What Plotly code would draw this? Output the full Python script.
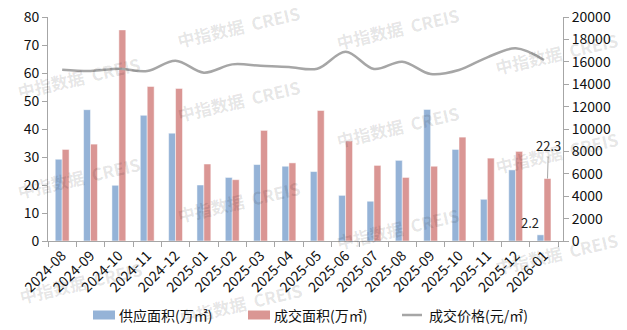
import plotly.graph_objects as go

# Monthly land market figures
months = ["2024-08", "2024-09", "2024-10", "2024-11", "2024-12", "2025-01",
          "2025-02", "2025-03", "2025-04", "2025-05", "2025-06", "2025-07",
          "2025-08", "2025-09", "2025-10", "2025-11", "2025-12", "2026-01"]
supply_area = [29.2, 46.9, 19.9, 44.9, 38.5, 20.0, 22.7, 27.3, 26.7, 24.8,
               16.3, 14.2, 28.8, 47.0, 32.7, 14.9, 25.4, 2.2]
deal_area = [32.7, 34.6, 75.4, 55.2, 54.5, 27.5, 21.9, 39.5, 27.9, 46.6,
             35.7, 27.0, 22.7, 26.7, 37.1, 29.6, 32.0, 22.3]
deal_price = [15300, 15180, 15380, 15180, 16100, 15030, 15770, 15650, 15540,
              15380, 16900, 15360, 16010, 14910, 15270, 16400, 17200, 16160]

series_names = ["供应面积(万㎡)", "成交面积(万㎡)", "成交价格(元/㎡)"]
left_ticks = list(range(0, 81, 10))
right_ticks = list(range(0, 20001, 2000))

BLUE = "#95b3d7"
RED = "#da9694"
GREY = "#a6a6a6"
AXIS = "#a6a6a6"
FONT = "Noto Sans CJK SC, Noto Sans, sans-serif"

BARGAP = 0.51
half = (1 - BARGAP) / 4  # centre offset of each bar inside its group

W, H = 627, 330
L, R, T, B = 48, 64, 17, 89
pw, ph = W - L - R, H - T - B


def px_x(px):
    return (px - L) / pw


def px_y(py):
    return (H - B - py) / ph


fig = go.Figure()
fig.add_trace(go.Bar(x=months, y=supply_area, name=series_names[0], showlegend=False,
                     marker=dict(color=BLUE, line=dict(color="white", width=0.5))))
fig.add_trace(go.Bar(x=months, y=deal_area, name=series_names[1], showlegend=False,
                     marker=dict(color=RED, line=dict(color="white", width=0.5))))
fig.add_trace(go.Scatter(x=months, y=deal_price, name=series_names[2], yaxis="y2",
                         mode="lines", showlegend=False,
                         line=dict(color=GREY, width=2.5, shape="spline", smoothing=1)))

# value labels on the last month
last = len(months) - 1
annotations = [
    dict(x=last - half, y=supply_area[-1], text=f"{supply_area[-1]}", showarrow=False,
         xshift=-11, yshift=12, font=dict(size=13, color="#222", family=FONT)),
    dict(x=last + half, y=deal_area[-1], text=f"{deal_area[-1]}", showarrow=True,
         arrowhead=0, arrowwidth=1, arrowcolor=GREY, ax=1, ay=-33,
         font=dict(size=13, color="#222", family=FONT)),
]

# faint "中指数据 CREIS" watermark tiles (pixel centres)
marks = [(78, 77), (78, 177), (80, 282),
         (238, 27), (238, 100), (238, 201), (240, 303),
         (397, 28), (397, 126), (397, 228),
         (556, 54), (556, 152), (556, 254)]
for mx, my in marks:
    annotations.append(dict(xref="paper", yref="paper", x=px_x(mx), y=px_y(my),
                            xanchor="center", yanchor="middle",
                            text="中指数据  CREIS", showarrow=False, textangle=-13,
                            font=dict(size=17, color="rgba(0,0,0,0.11)", family=FONT, weight="bold")))

# legend row drawn below the axis
shapes = []
leg_y = 315
legend_items = [("bar", BLUE, 93, 117), ("bar", RED, 248, 272), ("line", GREY, 402, 427)]
for (kind, color, sx, tx), name in zip(legend_items, series_names):
    if kind == "bar":
        shapes.append(dict(type="rect", xref="paper", yref="paper",
                           x0=px_x(sx), x1=px_x(sx + 22), y0=px_y(leg_y + 4.5), y1=px_y(leg_y - 4.5),
                           fillcolor=color, line=dict(width=0)))
    else:
        shapes.append(dict(type="line", xref="paper", yref="paper",
                           x0=px_x(sx), x1=px_x(sx + 20), y0=px_y(leg_y), y1=px_y(leg_y),
                           line=dict(color=color, width=2.5)))
    annotations.append(dict(xref="paper", yref="paper", x=px_x(tx), y=px_y(leg_y),
                            xanchor="left", yanchor="middle", showarrow=False, text=name,
                            font=dict(size=14, color="#111", family=FONT)))

fig.update_layout(
    width=W, height=H,
    margin=dict(l=L, r=R, t=T, b=B),
    paper_bgcolor="white", plot_bgcolor="white",
    barmode="group", bargap=BARGAP, bargroupgap=0,
    font=dict(family=FONT, size=14, color="#111"),
    showlegend=False,
    xaxis=dict(type="category", tickangle=-45, showline=True, linecolor=AXIS,
               ticks="outside", tickson="boundaries", ticklen=5, tickcolor=AXIS,
               tickfont=dict(size=14), showgrid=False, automargin=False),
    yaxis=dict(range=[0, 80], tickvals=left_ticks, showline=True, linecolor=AXIS,
               ticks="outside", ticklen=5, tickcolor=AXIS, showgrid=False, zeroline=False,
               tickfont=dict(size=14), automargin=False),
    yaxis2=dict(range=[0, 20000], tickvals=right_ticks, ticktext=[str(v) for v in right_ticks],
                overlaying="y", side="right",
                showline=True, linecolor=AXIS, ticks="outside", ticklen=5, tickcolor=AXIS,
                showgrid=False, zeroline=False, tickfont=dict(size=14), automargin=False),
    annotations=annotations,
    shapes=shapes,
)

fig.write_html("out.html")
